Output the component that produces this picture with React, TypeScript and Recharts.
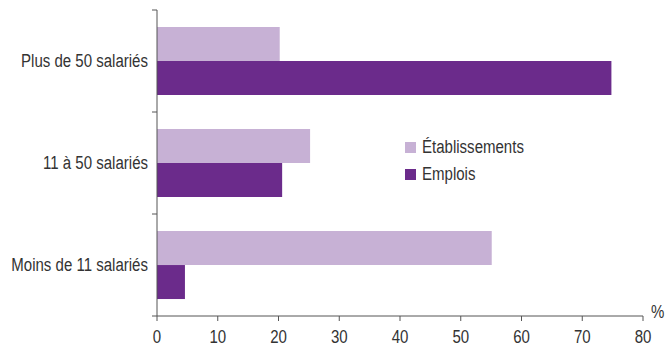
import React from 'react';
import { BarChart, Bar, XAxis, YAxis, Legend, Label } from 'recharts';

const categories = ['Plus de 50 salariés', '11 à 50 salariés', 'Moins de 11 salariés'];
const etablissements = [20.2, 25.2, 55.1];
const emplois = [74.8, 20.6, 4.6];
const xTicks = [0, 10, 20, 30, 40, 50, 60, 70, 80];
const seriesOrder = ['etablissements', 'emplois'];

const data = categories.map((c, i) => ({
  name: c,
  etablissements: etablissements[i],
  emplois: emplois[i],
}));

const W = 665;
const H = 345;
const MARGIN = { top: 10, right: 22, bottom: 0, left: 0 };
const Y_WIDTH = 157;
const X_HEIGHT = 29;
const PLOT_H = H - MARGIN.top - MARGIN.bottom - X_HEIGHT;
const BAND = PLOT_H / categories.length;

// reference uses a narrow Helvetica; squeeze Liberation Sans to match
const FONT = "'Liberation Sans', Arial, sans-serif";
const SQUEEZE = 0.835;
const FS = 18;
const TEXT = '#333333';
const AXIS = '#555555';
const LIGHT = '#c7b1d5';
const DARK = '#6b2b8b';

const NarrowText = ({ x, y, anchor, children }: any) => (
  <text
    transform={`translate(${x},${y}) scale(${SQUEEZE},1)`}
    textAnchor={anchor}
    fill={TEXT}
    fontSize={FS}
    fontFamily={FONT}
  >
    {children}
  </text>
);

const CategoryTick = (props: any) => {
  const { y, payload, index } = props;
  const ax = MARGIN.left + Y_WIDTH;
  return (
    <g>
      <line x1={ax - 5} x2={ax} y1={y - BAND / 2} y2={y - BAND / 2} stroke={AXIS} />
      {index === categories.length - 1 && (
        <line x1={ax - 5} x2={ax} y1={y + BAND / 2} y2={y + BAND / 2} stroke={AXIS} />
      )}
      <NarrowText x={ax - 9} y={y + 6} anchor="end">
        {payload.value}
      </NarrowText>
    </g>
  );
};

const ValueTick = (props: any) => {
  const { x, y, payload } = props;
  return (
    <NarrowText x={x} y={y + 13} anchor="middle">
      {payload.value}
    </NarrowText>
  );
};

const LegendBox = (props: any) => {
  const items = [...(props.payload || [])].sort(
    (a: any, b: any) => seriesOrder.indexOf(a.dataKey) - seriesOrder.indexOf(b.dataKey)
  );
  return (
    <div>
      {items.map((p: any) => (
        <div key={p.value} style={{ display: 'flex', alignItems: 'center', height: 27 }}>
          <span style={{ width: 11, height: 11, background: p.color, marginRight: 6, display: 'inline-block' }} />
          <span
            style={{
              fontFamily: FONT,
              fontSize: FS,
              color: TEXT,
              display: 'inline-block',
              transform: `scaleX(${SQUEEZE})`,
              transformOrigin: 'left center',
              whiteSpace: 'nowrap',
            }}
          >
            {p.value}
          </span>
        </div>
      ))}
    </div>
  );
};

const PercentLabel = (props: any) => {
  const { viewBox } = props;
  return (
    <NarrowText x={viewBox.x + viewBox.width + 8} y={viewBox.y + 2} anchor="start">
      %
    </NarrowText>
  );
};

export default function App() {
  return (
    <div style={{ position: 'absolute', left: 0, top: 0, width: W, height: H, background: '#fff' }}>
      <BarChart
        width={W}
        height={H}
        data={data}
        layout="vertical"
        margin={MARGIN}
        barCategoryGap="16.7%"
        barGap={0}
      >
        <XAxis
          type="number"
          domain={[0, 80]}
          ticks={xTicks}
          interval={0}
          height={X_HEIGHT}
          tickSize={5}
          tickMargin={9}
          stroke={AXIS}
          tick={ValueTick}
        >
          <Label content={PercentLabel} />
        </XAxis>
        <YAxis
          type="category"
          dataKey="name"
          width={Y_WIDTH}
          tickLine={false}
          stroke={AXIS}
          tick={CategoryTick}
          interval={0}
        />
        <Legend
          content={LegendBox}
          layout="vertical"
          align="center"
          verticalAlign="middle"
          wrapperStyle={{ left: 405, top: 134, width: 'auto' }}
        />
        <Bar dataKey="etablissements" name="Établissements" fill={LIGHT} isAnimationActive={false} />
        <Bar dataKey="emplois" name="Emplois" fill={DARK} isAnimationActive={false} />
      </BarChart>
    </div>
  );
}
